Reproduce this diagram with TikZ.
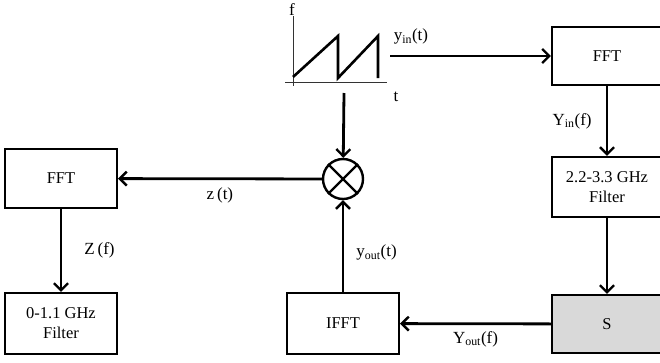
\documentclass[tikz,border=0pt]{standalone}
\usepackage{fontspec}
\setmainfont{Liberation Serif}
\usepackage{xcolor}
\usetikzlibrary{arrows.meta}
\definecolor{blockgray}{HTML}{D9D9D9}

\begin{document}
\begin{tikzpicture}[
    x=1pt, y=-1pt,
    block/.style={rectangle, draw=black, line width=2.2pt, minimum width=112pt, minimum height=59pt,
                  align=center, font=\fontsize{16.5}{20}\selectfont, inner sep=0pt},
    mixer/.style={circle, draw=black, line width=2.4pt, minimum size=40pt, inner sep=0pt},
    sig/.style={draw=black, line width=2.8pt, -{Straight Barb[length=7pt, width=14pt, line width=2.4pt]}},
    lbl/.style={font=\fontsize{17}{19}\selectfont, inner sep=1pt},
  ]
  \useasboundingbox (0,0) rectangle (660,362);

  % ---- the sweep that feeds the chain
  \draw[line width=0.9pt, black!80] (293,16) -- (293,86);
  \draw[line width=0.9pt, black!80] (285,82) -- (387,82);
  \node[lbl, anchor=south] (faxis) at (292,17) {f};
  \node[lbl] (taxis) at (396,97) {t};
  \draw[line width=2.6pt, line join=miter] (293,77) -- (338,36) -- (338,78) -- (378,36) -- (378,78);
  \coordinate (sweepout) at (390,56);
  \coordinate (sweepdn) at (344,93);

  % ---- blocks
  \node[block] (fftin) at (607,56) [minimum width=110pt, minimum height=58pt] {FFT};
  \node[block] (bpf) at (607,187) [minimum width=110pt, minimum height=60pt] {2.2-3.3 GHz\\Filter};
  \node[block, fill=blockgray] (smat) at (607,324) [minimum width=110pt, minimum height=58pt] {S};
  \node[block] (ifft) at (343,323.5) [minimum height=61pt] {IFFT};
  \node[mixer] (mix) at (343,179) {};
  \draw[line width=2.4pt] (mix.north west) -- (mix.south east);
  \draw[line width=2.4pt] (mix.north east) -- (mix.south west);
  \node[block] (fftz) at (61,178.5) {FFT};
  \node[block] (lpf) at (61,323.5) [minimum height=61pt] {0-1.1 GHz\\Filter};

  % ---- signal path
  \draw[sig] (sweepout) -- (fftin) node[lbl, pos=0.13, above=9pt] {y\textsubscript{in}(t)};
  \draw[sig] (fftin) -- (bpf) node[lbl, midway, left=13pt] {Y\textsubscript{in}(f)};
  \draw[sig] (bpf) -- (smat);
  \draw[sig] (smat) -- (ifft) node[lbl, midway, below=5pt] {Y\textsubscript{out}(f)};
  \draw[sig] (ifft) -- (mix) node[lbl, pos=0.43, right=11pt] {y\textsubscript{out}(t)};
  \draw[sig] (sweepdn) -- (mix);
  \draw[sig] (mix) -- (fftz) node[lbl, midway, below=7pt] {z\,(t)};
  \draw[sig] (fftz) -- (lpf) node[lbl, midway, right=21pt] {Z\,(f)};

\end{tikzpicture}
\end{document}
